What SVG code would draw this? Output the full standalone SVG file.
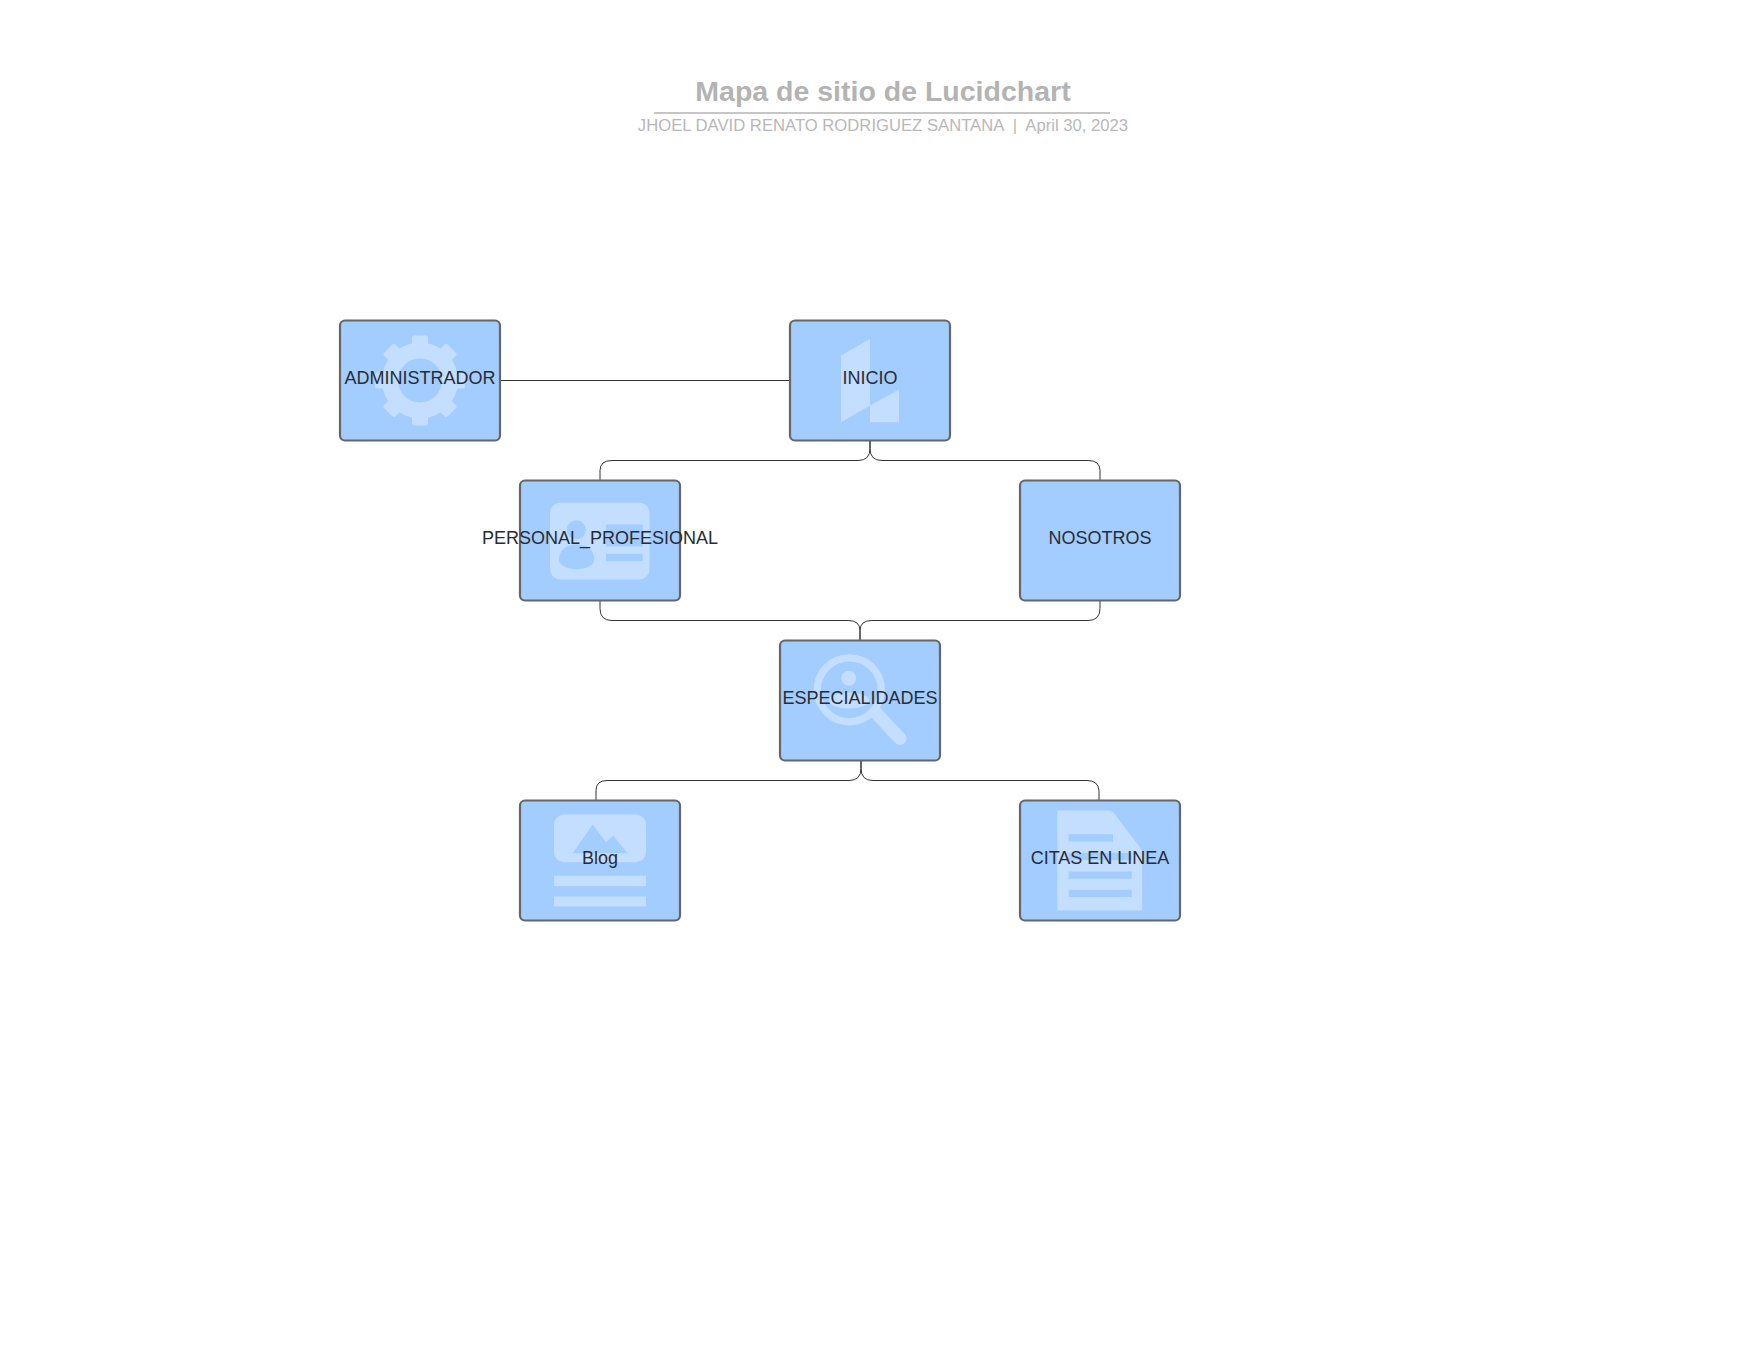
<svg xmlns="http://www.w3.org/2000/svg" width="1760" height="1360" viewBox="0 0 1760 1360">
<style>
text{font-family:"Liberation Sans",Arial,sans-serif;text-anchor:middle}
.box{fill:#a3ccff;stroke:#666;stroke-width:2.2}
.ic{fill:#c4deff}
.cut{fill:#a3ccff}
.ring{fill:none;stroke:#c4deff}
.lbl{font-size:18px;fill:#282c33}
.con{fill:none;stroke:#333;stroke-width:1}
</style>
<rect width="1760" height="1360" fill="#fff"/>
<g id="title">
<text x="883" y="100.5" font-size="28.5" font-weight="bold" fill="#b3b3b3">Mapa de sitio de Lucidchart</text>
<line x1="654" y1="113" x2="1110" y2="113" stroke="#b3b3b3" stroke-width="1.5"/>
<text x="883" y="131" font-size="16.67" fill="#b8b8b8" xml:space="preserve">JHOEL DAVID RENATO RODRIGUEZ SANTANA  |  April 30, 2023</text>
</g>
<g transform="translate(0 0.5)">
<g id="connectors">
<path class="con" d="M500 380H790"/>
<path class="con" d="M870 440V448Q870 460 858 460H612Q600 460 600 470V480"/>
<path class="con" d="M870 440V448Q870 460 882 460H1088Q1100 460 1100 470V480"/>
<path class="con" d="M600 600V608Q600 620 612 620H848Q860 620 860 630V640"/>
<path class="con" d="M1100 600V608Q1100 620 1088 620H872Q860 620 860 630V640"/>
<path class="con" d="M861 760V768Q861 780 849 780H607Q596 780 596 790V800"/>
<path class="con" d="M861 760V768Q861 780 873 780H1087Q1098 780 1099 790V800"/>
</g>
<g id="node-administrador">
<rect class="box" x="340" y="320" width="160" height="120" rx="5"/>
<circle class="ring" cx="420" cy="380" r="30" stroke-width="16"/>
<g class="ic">
<rect x="412" y="335" width="16" height="14" rx="2"/>
<rect x="412" y="335" width="16" height="14" rx="2" transform="rotate(45 420 380)"/>
<rect x="412" y="335" width="16" height="14" rx="2" transform="rotate(90 420 380)"/>
<rect x="412" y="335" width="16" height="14" rx="2" transform="rotate(135 420 380)"/>
<rect x="412" y="335" width="16" height="14" rx="2" transform="rotate(180 420 380)"/>
<rect x="412" y="335" width="16" height="14" rx="2" transform="rotate(225 420 380)"/>
<rect x="412" y="335" width="16" height="14" rx="2" transform="rotate(270 420 380)"/>
<rect x="412" y="335" width="16" height="14" rx="2" transform="rotate(315 420 380)"/>
</g>
<text class="lbl" x="420" y="383">ADMINISTRADOR</text>
</g>
<g id="node-inicio">
<rect class="box" x="790" y="320" width="160" height="120" rx="5"/>
<path class="ic" d="M841 355L870 338.3V405L841 421.7ZM870 405L899 389V421.7H870Z"/>
<text class="lbl" x="870" y="383">INICIO</text>
</g>
<g id="node-personal">
<rect class="box" x="520" y="480" width="160" height="120" rx="5"/>
<rect class="ic" x="550" y="502.3" width="99.5" height="76.7" rx="10"/>
<circle class="cut" cx="576.3" cy="529.3" r="9.5"/>
<path class="cut" d="M559 559C559 549 567 544 576.5 544C586 544 594.3 549 594.3 559C594.3 565 586 568.7 576.5 568.7C567 568.7 559 565 559 559Z"/>
<rect class="cut" x="606" y="524" width="36.7" height="22"/>
<rect class="cut" x="606" y="553.3" width="36.7" height="7.4"/>
<text class="lbl" x="600" y="543">PERSONAL_PROFESIONAL</text>
</g>
<g id="node-nosotros">
<rect class="box" x="1020" y="480" width="160" height="120" rx="5"/>
<text class="lbl" x="1100" y="543">NOSOTROS</text>
</g>
<g id="node-especialidades">
<rect class="box" x="780" y="640" width="160" height="120" rx="5"/>
<circle class="ring" cx="849.3" cy="689.3" r="32" stroke-width="7.3"/>
<circle class="ic" cx="848.7" cy="677.7" r="7.5"/>
<ellipse class="ic" cx="849" cy="700" rx="20" ry="8"/>
<path d="M876 712.5L900 738" fill="none" stroke="#c4deff" stroke-width="13" stroke-linecap="round"/>
<text class="lbl" x="860" y="703">ESPECIALIDADES</text>
</g>
<g id="node-blog">
<rect class="box" x="520" y="800" width="160" height="120" rx="5"/>
<rect class="ic" x="554" y="814" width="92" height="47.7" rx="10"/>
<path class="cut" d="M572.7 852.7L592.7 824L606 841.7L613.3 835L627.3 852.7Z"/>
<rect class="ic" x="554" y="875.3" width="92" height="10.4"/>
<rect class="ic" x="554" y="896" width="92" height="10"/>
<text class="lbl" x="600" y="863">Blog</text>
</g>
<g id="node-citas">
<rect class="box" x="1020" y="800" width="160" height="120" rx="5"/>
<path class="ic" d="M1057.3 810H1108Q1112 810 1115 814L1139.5 846Q1142.2 850 1142.2 854V910H1057.3Z"/>
<rect class="cut" x="1068.7" y="833.7" width="44.3" height="7.3"/>
<rect class="cut" x="1068.7" y="852.3" width="63" height="7.3"/>
<rect class="cut" x="1068.7" y="871" width="63" height="7.3"/>
<rect class="cut" x="1068.7" y="889.3" width="63" height="7.3"/>
<text class="lbl" x="1100" y="863">CITAS EN LINEA</text>
</g>
</g>
</svg>
